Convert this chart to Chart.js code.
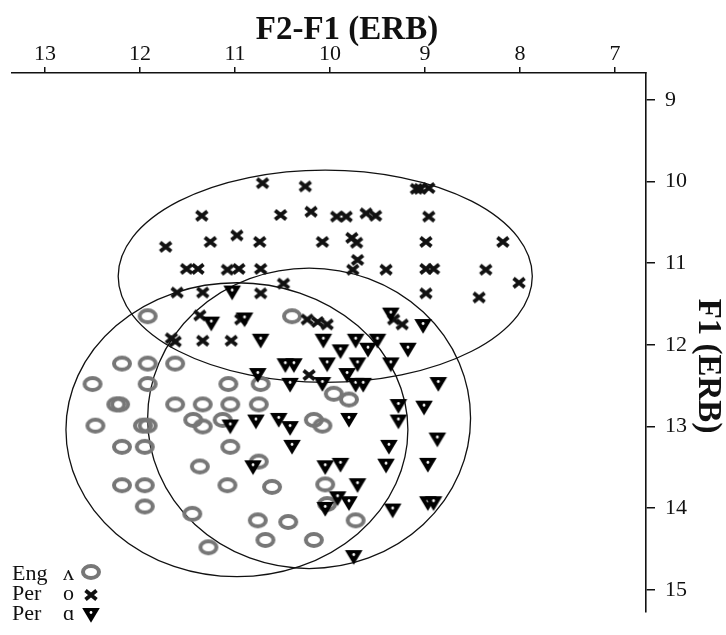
<!DOCTYPE html>
<html><head><meta charset="utf-8">
<script src="https://cdn.jsdelivr.net/npm/chart.js@4.4.1/dist/chart.umd.min.js"></script>
<style>html,body{margin:0;padding:0;background:#fff;overflow:hidden}canvas{display:block}</style>
</head><body>
<canvas id="c" width="726" height="635"></canvas>
<script>
// ---- data ----
const xTicks = [13, 12, 11, 10, 9, 8, 7];
const yTicks = [9, 10, 11, 12, 13, 14, 15];
const xTitle = 'F2-F1 (ERB)';
const yTitle = 'F1 (ERB)';
const seriesNames = ['Eng', 'Per', 'Per'];
const seriesVowels = ['ʌ', 'o', 'ɑ'];

// Eng ʌ (grey rings)
const engX = [11.92,10.40,12.19,11.92,11.63,12.50,11.92,11.07,10.73,12.25,12.21,11.63,11.34,11.05,10.75,12.47,11.97,11.92,11.44,11.34,11.13,12.19,11.95,11.05,11.37,12.19,11.95,11.08,11.95,11.45,11.28,10.76,10.44,10.68,10.17,9.73,10.05,10.61,10.03,9.96,9.80,10.17,10.08,10.75];
const engY = [11.65,11.65,12.23,12.23,12.23,12.48,12.48,12.48,12.48,12.73,12.73,12.73,12.73,12.73,12.73,12.99,12.99,12.99,12.92,13.00,12.92,13.25,13.25,13.25,13.49,13.72,13.72,13.72,13.98,14.07,14.48,14.15,14.17,14.39,14.39,14.15,13.71,13.74,13.95,12.60,12.67,12.92,12.99,13.43];

// Per o (crosses)
const perOX = [10.71,10.26,9.09,9.05,8.96,11.35,10.52,10.20,9.93,9.83,9.62,9.52,8.96,11.73,11.26,10.98,10.74,10.08,9.77,9.72,8.99,8.18,11.51,11.39,11.08,10.96,10.73,9.71,9.76,9.41,8.99,8.91,8.36,8.01,11.61,11.34,10.73,10.49,8.99,8.43,11.37,10.24,10.13,10.03,10.94,11.67,11.63,11.34,11.04,9.33,9.24,10.22];
const perOY = [10.02,10.06,10.09,10.09,10.08,10.42,10.41,10.37,10.43,10.43,10.39,10.42,10.43,10.80,10.74,10.66,10.74,10.74,10.69,10.75,10.74,10.74,11.07,11.07,11.08,11.07,11.07,10.96,11.08,11.08,11.07,11.07,11.08,11.24,11.36,11.36,11.37,11.25,11.37,11.42,11.64,11.69,11.72,11.75,11.69,11.92,11.96,11.95,11.95,11.69,11.75,12.37];

// Per ɑ (triangles)
const perAX = [11.03,11.25,10.90,10.73,10.76,11.05,10.78,10.54,10.42,10.81,10.07,9.73,9.50,9.89,9.60,9.18,9.36,9.02,10.47,10.38,10.03,9.71,9.36,10.42,10.08,9.82,9.73,9.65,8.86,9.28,9.01,9.80,9.28,8.87,10.40,9.38,10.05,9.89,9.41,8.97,9.71,9.92,9.80,10.05,9.34,8.97,8.91,9.75];
const perAY = [11.36,11.74,11.69,11.95,12.37,13.00,12.94,12.92,13.02,13.50,11.95,11.95,11.95,12.08,12.06,12.06,11.63,11.77,12.25,12.25,12.24,12.24,12.24,12.49,12.48,12.37,12.49,12.49,12.48,12.75,12.77,12.92,12.94,13.16,13.25,13.25,13.50,13.47,13.48,13.47,13.72,13.88,13.94,14.01,14.03,13.94,13.94,14.60];

// ellipses (in data units): Per o, Eng ʌ, Per ɑ
const ellipseCX = [10.05, 10.98, 10.22];
const ellipseCY = [11.16, 13.04, 12.90];
const ellipseRX = [2.18, 1.80, 1.70];
const ellipseRY = [1.30, 1.80, 1.84];

// ---- marker images ----
function mk(w, h, draw) { const c = document.createElement('canvas'); c.width = w; c.height = h; draw(c.getContext('2d')); return c; }
const ringImg = mk(24, 20, g => { g.strokeStyle = '#777'; g.lineWidth = 4; g.beginPath(); g.ellipse(12, 10, 8, 6, 0, 0, Math.PI * 2); g.stroke(); });
const crossImg = mk(18, 16, g => { g.strokeStyle = '#111'; g.lineWidth = 3.8; g.beginPath(); g.moveTo(3.5, 3.5); g.lineTo(14.5, 12.5); g.moveTo(14.5, 3.5); g.lineTo(3.5, 12.5); g.stroke(); });
const triImg = mk(20, 18, g => { g.fillStyle = '#000'; g.beginPath(); g.moveTo(1.2, 2); g.lineTo(18.8, 2); g.lineTo(10, 16.8); g.closePath(); g.fill(); g.fillStyle = '#fff'; g.beginPath(); g.arc(10, 6.5, 1.4, 0, Math.PI * 2); g.fill(); });
const markerImgs = [ringImg, crossImg, triImg];

const pts = (xs, ys) => xs.map((x, i) => ({ x, y: ys[i] }));

const decor = {
  id: 'decor',
  beforeDatasetsDraw(chart) {
    const { ctx, scales: { x, y } } = chart;
    ctx.save();
    ctx.strokeStyle = '#111'; ctx.lineWidth = 1.3;
    for (let i = 0; i < ellipseCX.length; i++) {
      const cx = x.getPixelForValue(ellipseCX[i]), cy = y.getPixelForValue(ellipseCY[i]);
      const rx = Math.abs(x.getPixelForValue(ellipseCX[i] + ellipseRX[i]) - cx);
      const ry = Math.abs(y.getPixelForValue(ellipseCY[i] + ellipseRY[i]) - cy);
      ctx.beginPath(); ctx.ellipse(cx, cy, rx, ry, 0, 0, Math.PI * 2); ctx.stroke();
    }
    ctx.restore();
  },
  afterDraw(chart) {
    const { ctx } = chart;
    ctx.save();
    ctx.fillStyle = '#111';
    ctx.font = 'bold 33px "Liberation Serif"';
    ctx.textAlign = 'center'; ctx.textBaseline = 'alphabetic';
    ctx.fillText(xTitle, 347, 39);
    ctx.save();
    ctx.translate(708, 366); ctx.rotate(Math.PI / 2);
    ctx.textBaseline = 'middle';
    ctx.fillText(yTitle, 0, 0);
    ctx.restore();
    // legend
    ctx.font = '22px "Liberation Serif"';
    ctx.textAlign = 'left'; ctx.textBaseline = 'alphabetic';
    const base = [580, 600, 620];
    const my = [572, 595, 615];
    for (let i = 0; i < 3; i++) {
      ctx.fillText(seriesNames[i], 12, base[i]);
      ctx.fillText(seriesVowels[i], 63, base[i]);
      const im = markerImgs[i];
      ctx.drawImage(im, 91 - im.width / 2, my[i] - im.height / 2);
    }
    ctx.restore();
  }
};

new Chart(document.getElementById('c'), {
  type: 'scatter',
  data: {
    datasets: [
      { label: 'Eng ʌ', data: pts(engX, engY), pointStyle: ringImg, pointRadius: 8, order: 3 },
      { label: 'Per o', data: pts(perOX, perOY), pointStyle: crossImg, pointRadius: 8, order: 2 },
      { label: 'Per ɑ', data: pts(perAX, perAY), pointStyle: triImg, pointRadius: 8, order: 1 }
    ]
  },
  options: {
    responsive: false, animation: false, devicePixelRatio: 1,
    layout: { padding: { left: 12, top: 0, right: 0, bottom: 0 } },
    plugins: { legend: { display: false }, tooltip: { enabled: false } },
    scales: {
      x: {
        type: 'linear', position: 'top', reverse: true, min: 6.673, max: 13.348,
        afterBuildTicks: s => { s.ticks = xTicks.map(v => ({ value: v })); },
        afterFit: s => { s.height = 73; },
        grid: { display: true, drawOnChartArea: false, drawTicks: true, tickLength: 6, color: '#111', lineWidth: 1.5 },
        border: { display: true, color: '#111', width: 1.6 },
        ticks: { font: { family: 'Liberation Serif', size: 22 }, color: '#111', padding: 0, maxRotation: 0, autoSkip: false }
      },
      y: {
        type: 'linear', position: 'right', reverse: true, min: 8.671, max: 15.27,
        afterBuildTicks: s => { s.ticks = yTicks.map(v => ({ value: v })); },
        afterFit: s => { s.width = 80; },
        grid: { display: true, drawOnChartArea: false, drawTicks: true, tickLength: 9, color: '#111', lineWidth: 1.5 },
        border: { display: true, color: '#111', width: 1.6 },
        ticks: { font: { family: 'Liberation Serif', size: 22 }, color: '#111', padding: 10, autoSkip: false }
      }
    }
  },
  plugins: [decor]
});
</script>
</body></html>
